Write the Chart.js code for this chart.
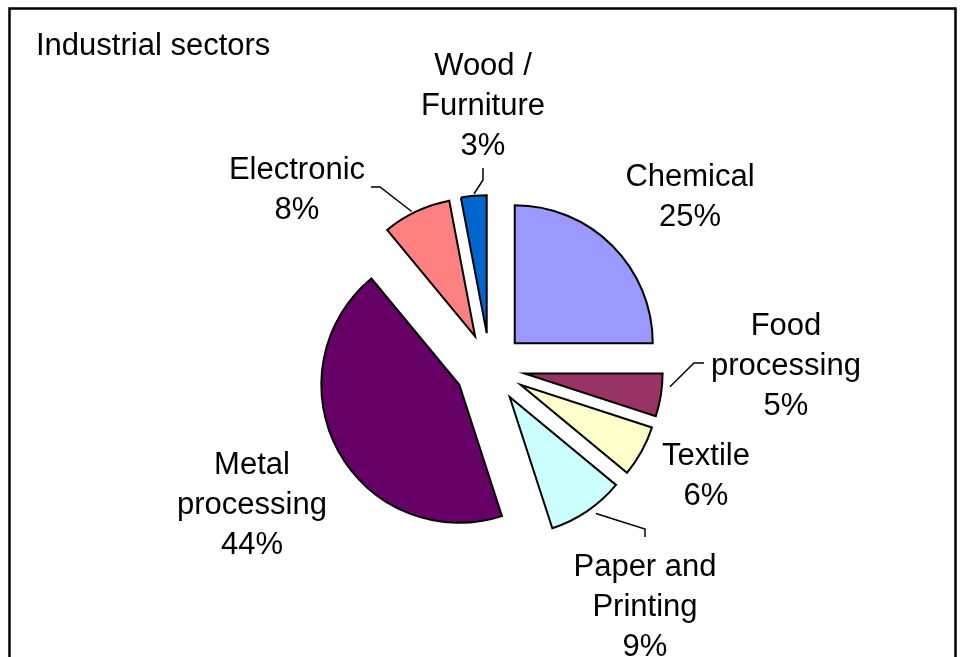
<!DOCTYPE html>
<html>
<head>
<meta charset="utf-8">
<script src="https://cdn.jsdelivr.net/npm/chart.js@4.4.1/dist/chart.umd.min.js"></script>
<style>
  html, body { margin: 0; padding: 0; background: #fff; }
  canvas { display: block; }
</style>
</head>
<body>
<canvas id="pie" width="967" height="657"></canvas>
<script>
// data (clockwise from 12 o'clock)
const categories = ['Chemical', 'Food\nprocessing', 'Textile', 'Paper and\nPrinting',
  'Metal\nprocessing', 'Electronic', 'Wood /\nFurniture'];
const shares = [25, 5, 6, 9, 44, 8, 3];
const sliceColors = ['#9999FF', '#993366', '#FFFFCC', '#CCFFFF', '#660066', '#FF8080', '#0066CC'];
const chartTitle = 'Industrial sectors';

// layout / style
const FONT = '31px "Liberation Sans", Arial, sans-serif';
const LINE_H = 40;
const EXPLODE = 35;   // how far every slice is pulled out
const RADIUS = 138;

// label anchor: centre x, first baseline
const labelPos = [
  [690, 186], [786, 335], [706, 465], [645, 576], [252, 474], [297, 179], [483, 75]
];

// leader lines: slice index, where on the arc it starts, then the bend and the end
const leaders = [
  { i: 6, frac: 0.52, gap: 2, pts: [[483, 180], [483, 168]] },
  { i: 5, frac: 0.44, gap: 2, pts: [[380, 187], [371, 187]] },
  { i: 1, frac: 0.29, gap: 8, pts: [[694, 363], [704, 363]] },
  { i: 3, frac: 0.43, gap: 7, pts: [[645, 529], [645, 537]] }
];

const total = shares.reduce((a, b) => a + b, 0);

// pull each slice out along its bisector
const explodePlugin = {
  id: 'explode',
  afterDatasetUpdate(chart, args) {
    args.meta.data.forEach(arc => {
      const mid = (arc.startAngle + arc.endAngle) / 2;
      arc.x += Math.cos(mid) * EXPLODE;
      arc.y += Math.sin(mid) * EXPLODE;
    });
  }
};

const textPlugin = {
  id: 'texts',
  beforeDraw(chart) {
    const ctx = chart.ctx;
    ctx.save();
    ctx.fillStyle = '#fff';
    ctx.fillRect(0, 0, chart.width, chart.height);
    ctx.restore();
  },
  afterDraw(chart) {
    const ctx = chart.ctx;
    const arcs = chart.getDatasetMeta(0).data;
    ctx.save();

    // leader lines
    ctx.strokeStyle = '#000';
    ctx.lineWidth = 1.5;
    leaders.forEach(l => {
      const arc = arcs[l.i];
      const a = arc.startAngle + (arc.endAngle - arc.startAngle) * l.frac;
      const r = arc.outerRadius + l.gap;
      ctx.beginPath();
      ctx.moveTo(arc.x + Math.cos(a) * r, arc.y + Math.sin(a) * r);
      l.pts.forEach(p => ctx.lineTo(p[0], p[1]));
      ctx.stroke();
    });

    // labels
    ctx.font = FONT;
    ctx.fillStyle = '#000';
    ctx.textBaseline = 'alphabetic';
    ctx.textAlign = 'center';
    categories.forEach((name, i) => {
      const lines = name.split('\n');
      lines.push(Math.round(shares[i] / total * 100) + '%');
      const [x, y] = labelPos[i];
      lines.forEach((t, k) => ctx.fillText(t, x, y + k * LINE_H));
    });

    // title
    ctx.textAlign = 'left';
    ctx.fillText(chartTitle, 36, 55);

    // frame
    ctx.lineWidth = 2.5;
    ctx.strokeRect(9.5, 8.5, 946, 700);
    ctx.restore();
  }
};

new Chart(document.getElementById('pie'), {
  type: 'pie',
  data: {
    labels: categories,
    datasets: [{
      data: shares,
      backgroundColor: sliceColors,
      borderColor: '#000',
      borderWidth: 2,
      borderJoinStyle: 'miter',
      radius: RADIUS
    }]
  },
  options: {
    responsive: false,
    animation: false,
    events: [],
    layout: { padding: { left: 13, right: 0, top: 79, bottom: 0 } },
    plugins: {
      legend: { display: false },
      title: { display: false },
      tooltip: { enabled: false }
    }
  },
  plugins: [explodePlugin, textPlugin]
});
</script>
</body>
</html>
